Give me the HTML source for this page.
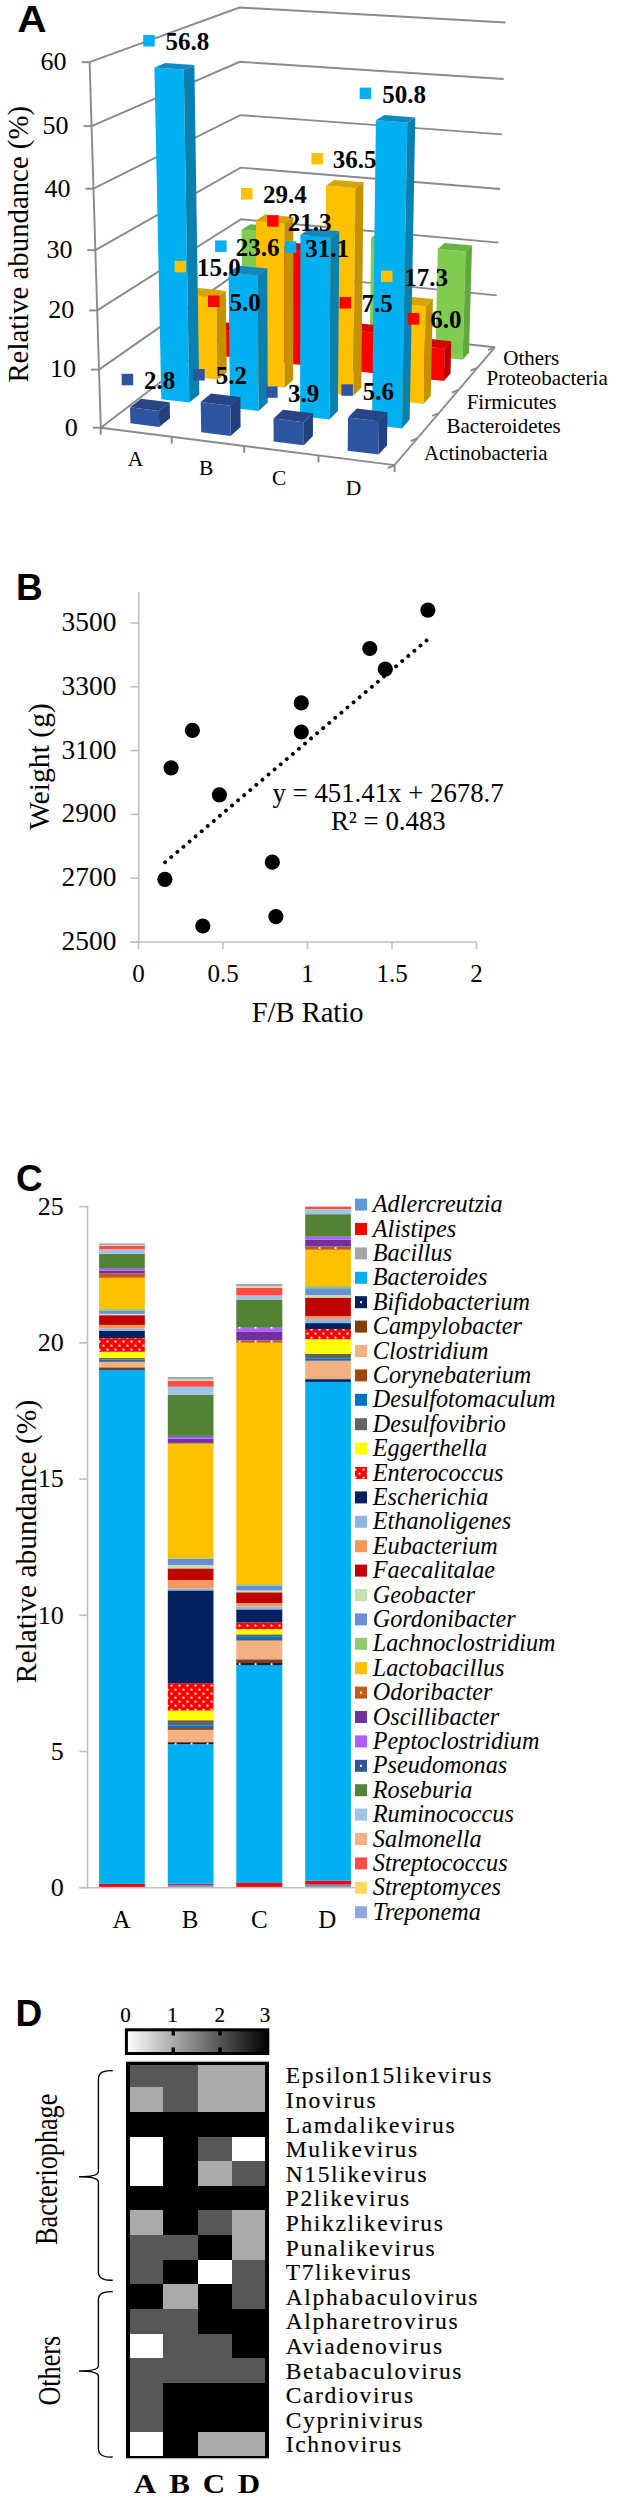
<!DOCTYPE html>
<html><head><meta charset="utf-8"><style>html,body{margin:0;padding:0;background:#fff;}svg{display:block;}</style></head>
<body><svg width="617" height="2500" viewBox="0 0 617 2500"><defs>
<pattern id="dotR" width="8" height="8" patternUnits="userSpaceOnUse"><rect width="8" height="8" fill="#FF0000"/><circle cx="3.5" cy="5.7" r="1.1" fill="#fff"/><circle cx="7.5" cy="1.7" r="1.1" fill="#fff"/><circle cx="-0.5" cy="1.7" r="1.1" fill="#fff"/><circle cx="7.5" cy="9.7" r="1.1" fill="#fff"/><circle cx="-0.5" cy="9.7" r="1.1" fill="#fff"/></pattern>
<linearGradient id="gradBW" x1="0" x2="1" y1="0" y2="0"><stop offset="0" stop-color="#fff"/><stop offset="1" stop-color="#000"/></linearGradient>
</defs>
<rect width="617" height="2500" fill="#fff"/>
<text transform="translate(17.2,31.6) scale(1.1,1)" font-family="Liberation Sans" font-weight="bold" font-size="37">A</text>
<polyline points="100.8,427.7 241.8,320.1 495.0,347.2" fill="none" stroke="#8A8A8A" stroke-width="1.9"/>
<line x1="92.8" y1="427.7" x2="100.8" y2="427.7" stroke="#8A8A8A" stroke-width="1.9"/>
<polyline points="99.0,369.6 241.4,270.1 496.7,295.4" fill="none" stroke="#8A8A8A" stroke-width="1.9"/>
<line x1="91.0" y1="369.6" x2="99.0" y2="369.6" stroke="#8A8A8A" stroke-width="1.9"/>
<polyline points="97.2,310.4 241.0,219.3 498.4,242.6" fill="none" stroke="#8A8A8A" stroke-width="1.9"/>
<line x1="89.2" y1="310.4" x2="97.2" y2="310.4" stroke="#8A8A8A" stroke-width="1.9"/>
<polyline points="95.4,250.2 240.6,167.6 500.1,189.0" fill="none" stroke="#8A8A8A" stroke-width="1.9"/>
<line x1="87.4" y1="250.2" x2="95.4" y2="250.2" stroke="#8A8A8A" stroke-width="1.9"/>
<polyline points="93.5,188.7 240.2,115.1 501.9,134.4" fill="none" stroke="#8A8A8A" stroke-width="1.9"/>
<line x1="85.5" y1="188.7" x2="93.5" y2="188.7" stroke="#8A8A8A" stroke-width="1.9"/>
<polyline points="91.6,126.1 239.8,61.8 503.7,79.0" fill="none" stroke="#8A8A8A" stroke-width="1.9"/>
<line x1="83.6" y1="126.1" x2="91.6" y2="126.1" stroke="#8A8A8A" stroke-width="1.9"/>
<polyline points="89.6,62.2 239.4,7.5 505.5,22.5" fill="none" stroke="#8A8A8A" stroke-width="1.9"/>
<line x1="81.6" y1="62.2" x2="89.6" y2="62.2" stroke="#8A8A8A" stroke-width="1.9"/>
<line x1="100.8" y1="427.7" x2="89.6" y2="62.2" stroke="#8A8A8A" stroke-width="1.9"/>
<polyline points="100.8,427.7 394.6,465.1 495.0,347.2" fill="none" stroke="#8A8A8A" stroke-width="1.9"/>
<line x1="100.8" y1="427.7" x2="100.8" y2="434.7" stroke="#8A8A8A" stroke-width="1.9"/>
<line x1="171.7" y1="436.7" x2="171.7" y2="443.7" stroke="#8A8A8A" stroke-width="1.9"/>
<line x1="244.2" y1="445.9" x2="244.2" y2="452.9" stroke="#8A8A8A" stroke-width="1.9"/>
<line x1="318.5" y1="455.4" x2="318.5" y2="462.4" stroke="#8A8A8A" stroke-width="1.9"/>
<line x1="394.6" y1="465.1" x2="394.6" y2="472.1" stroke="#8A8A8A" stroke-width="1.9"/>
<line x1="394.6" y1="465.1" x2="387.6" y2="468.1" stroke="#8A8A8A" stroke-width="1.9"/>
<line x1="417.6" y1="438.1" x2="410.6" y2="441.1" stroke="#8A8A8A" stroke-width="1.9"/>
<line x1="439.0" y1="413.0" x2="432.0" y2="416.0" stroke="#8A8A8A" stroke-width="1.9"/>
<line x1="458.9" y1="389.6" x2="451.9" y2="392.6" stroke="#8A8A8A" stroke-width="1.9"/>
<line x1="477.6" y1="367.7" x2="470.6" y2="370.7" stroke="#8A8A8A" stroke-width="1.9"/>
<line x1="495.0" y1="347.2" x2="488.0" y2="350.2" stroke="#8A8A8A" stroke-width="1.9"/>
<polygon points="242.4,335.7 268.1,338.5 267.7,232.2 241.6,229.8" fill="#80CC50"/>
<polygon points="268.1,338.5 276.4,331.8 276.1,226.6 267.7,232.2" fill="#5FA83A"/>
<polygon points="241.6,229.8 267.7,232.2 276.1,226.6 250.3,224.2" fill="#6AB244"/>
<polygon points="305.4,342.6 331.6,345.4 332.3,240.8 305.7,238.4" fill="#80CC50"/>
<polygon points="331.6,345.4 339.3,338.6 340.1,235.0 332.3,240.8" fill="#5FA83A"/>
<polygon points="305.7,238.4 332.3,240.8 340.1,235.0 313.7,232.6" fill="#6AB244"/>
<polygon points="369.7,349.6 396.5,352.6 398.3,240.5 371.1,238.0" fill="#80CC50"/>
<polygon points="396.5,352.6 403.5,345.6 405.4,234.7 398.3,240.5" fill="#5FA83A"/>
<polygon points="371.1,238.0 398.3,240.5 405.4,234.7 378.5,232.2" fill="#6AB244"/>
<polygon points="435.4,356.8 462.7,359.8 465.6,251.6 437.8,249.0" fill="#80CC50"/>
<polygon points="462.7,359.8 469.0,352.7 472.0,245.5 465.6,251.6" fill="#5FA83A"/>
<polygon points="437.8,249.0 465.6,251.6 472.0,245.5 444.5,243.0" fill="#6AB244"/>
<polygon points="217.1,355.5 243.5,358.5 243.3,332.1 216.8,329.2" fill="#FF0000"/>
<polygon points="243.5,358.5 252.3,351.3 252.1,325.3 243.3,332.1" fill="#C00000"/>
<polygon points="216.8,329.2 243.3,332.1 252.1,325.3 225.9,322.4" fill="#D80000"/>
<polygon points="281.9,362.8 308.9,365.9 309.2,251.0 281.7,248.4" fill="#FF0000"/>
<polygon points="308.9,365.9 317.0,358.6 317.4,244.9 309.2,251.0" fill="#C00000"/>
<polygon points="281.7,248.4 309.2,251.0 317.4,244.9 290.3,242.4" fill="#D80000"/>
<polygon points="348.1,370.3 375.6,373.4 376.1,333.1 348.4,330.1" fill="#FF0000"/>
<polygon points="375.6,373.4 383.1,366.0 383.6,326.0 376.1,333.1" fill="#C00000"/>
<polygon points="348.4,330.1 376.1,333.1 383.6,326.0 356.2,323.1" fill="#D80000"/>
<polygon points="415.6,378.0 443.8,381.1 444.6,348.6 416.3,345.5" fill="#FF0000"/>
<polygon points="443.8,381.1 450.5,373.5 451.3,341.3 444.6,348.6" fill="#C00000"/>
<polygon points="416.3,345.5 444.6,348.6 451.3,341.3 423.4,338.3" fill="#D80000"/>
<polygon points="190.2,376.6 217.3,379.8 216.3,297.7 188.8,294.8" fill="#FFC000"/>
<polygon points="217.3,379.8 226.7,372.2 225.8,290.9 216.3,297.7" fill="#C49200"/>
<polygon points="188.8,294.8 216.3,297.7 225.8,290.9 198.6,288.1" fill="#D9A300"/>
<polygon points="256.8,384.4 284.5,387.7 284.3,223.1 255.9,220.5" fill="#FFC000"/>
<polygon points="284.5,387.7 293.2,379.9 293.3,217.1 284.3,223.1" fill="#C49200"/>
<polygon points="255.9,220.5 284.3,223.1 293.3,217.1 265.1,214.5" fill="#D9A300"/>
<polygon points="324.9,392.4 353.3,395.7 355.3,188.0 326.0,185.6" fill="#FFC000"/>
<polygon points="353.3,395.7 361.3,387.7 363.5,182.3 355.3,188.0" fill="#C49200"/>
<polygon points="326.0,185.6 355.3,188.0 363.5,182.3 334.5,179.9" fill="#D9A300"/>
<polygon points="394.6,400.6 423.6,404.0 425.6,306.2 396.1,303.2" fill="#FFC000"/>
<polygon points="423.6,404.0 430.8,395.8 432.9,299.1 425.6,306.2" fill="#C49200"/>
<polygon points="396.1,303.2 425.6,306.2 432.9,299.1 403.8,296.2" fill="#D9A300"/>
<polygon points="161.3,399.2 189.3,402.6 183.8,69.5 154.4,67.5" fill="#00B0F0"/>
<polygon points="189.3,402.6 199.3,394.4 194.4,65.1 183.8,69.5" fill="#0A80B0"/>
<polygon points="154.4,67.5 183.8,69.5 194.4,65.1 165.3,63.1" fill="#0F89C0"/>
<polygon points="230.0,407.5 258.5,411.0 257.8,275.4 228.6,272.5" fill="#00B0F0"/>
<polygon points="258.5,411.0 267.8,402.6 267.3,268.5 257.8,275.4" fill="#0A80B0"/>
<polygon points="228.6,272.5 257.8,275.4 267.3,268.5 238.4,265.7" fill="#0F89C0"/>
<polygon points="300.1,416.0 329.4,419.6 330.5,237.8 300.4,235.0" fill="#00B0F0"/>
<polygon points="329.4,419.6 337.9,411.0 339.3,231.3 330.5,237.8" fill="#0A80B0"/>
<polygon points="300.4,235.0 330.5,237.8 339.3,231.3 309.5,228.6" fill="#0F89C0"/>
<polygon points="372.0,424.8 401.9,428.4 407.3,122.6 375.9,120.3" fill="#00B0F0"/>
<polygon points="401.9,428.4 409.7,419.6 415.3,117.4 407.3,122.6" fill="#0A80B0"/>
<polygon points="375.9,120.3 407.3,122.6 415.3,117.4 384.3,115.1" fill="#0F89C0"/>
<polygon points="130.4,423.3 159.2,427.0 158.9,410.9 130.0,407.3" fill="#2E55A0"/>
<polygon points="159.2,427.0 170.0,418.2 169.7,402.3 158.9,410.9" fill="#22417F"/>
<polygon points="130.0,407.3 158.9,410.9 169.7,402.3 141.1,398.8" fill="#2A4585"/>
<polygon points="201.2,432.3 230.7,436.0 230.4,405.7 200.7,402.1" fill="#2E55A0"/>
<polygon points="230.7,436.0 240.6,427.0 240.4,397.0 230.4,405.7" fill="#22417F"/>
<polygon points="200.7,402.1 230.4,405.7 240.4,397.0 211.1,393.5" fill="#2A4585"/>
<polygon points="273.6,441.4 303.8,445.2 303.8,422.2 273.5,418.5" fill="#2E55A0"/>
<polygon points="303.8,445.2 312.9,436.0 313.0,413.3 303.8,422.2" fill="#22417F"/>
<polygon points="273.5,418.5 303.8,422.2 313.0,413.3 283.1,409.7" fill="#2A4585"/>
<polygon points="347.7,450.7 378.6,454.6 379.1,421.3 348.0,417.5" fill="#2E55A0"/>
<polygon points="378.6,454.6 387.0,445.2 387.5,412.3 379.1,421.3" fill="#22417F"/>
<polygon points="348.0,417.5 379.1,421.3 387.5,412.3 356.8,408.6" fill="#2A4585"/>
<rect x="143.2" y="35.0" width="11.5" height="11.5" fill="#00B0F0"/>
<text x="165.6" y="50.3" font-family="Liberation Serif" font-weight="bold" font-size="25">56.8</text>
<rect x="359.7" y="87.6" width="11.5" height="11.5" fill="#00B0F0"/>
<text x="382.2" y="102.9" font-family="Liberation Serif" font-weight="bold" font-size="25">50.8</text>
<rect x="311.4" y="153.0" width="11.5" height="11.5" fill="#FFC000"/>
<text x="332.8" y="168.3" font-family="Liberation Serif" font-weight="bold" font-size="25">36.5</text>
<rect x="241.0" y="188.0" width="11.5" height="11.5" fill="#FFC000"/>
<text x="263.1" y="203.3" font-family="Liberation Serif" font-weight="bold" font-size="25">29.4</text>
<rect x="267.0" y="215.2" width="11.5" height="11.5" fill="#FF0000"/>
<text x="287.7" y="230.5" font-family="Liberation Serif" font-weight="bold" font-size="25">21.3</text>
<rect x="215.1" y="240.4" width="11.5" height="11.5" fill="#00B0F0"/>
<text x="235.8" y="255.7" font-family="Liberation Serif" font-weight="bold" font-size="25">23.6</text>
<rect x="284.8" y="241.3" width="11.5" height="11.5" fill="#00B0F0"/>
<text x="305.2" y="256.6" font-family="Liberation Serif" font-weight="bold" font-size="25">31.1</text>
<rect x="174.6" y="260.8" width="11.5" height="11.5" fill="#FFC000"/>
<text x="196.9" y="276.1" font-family="Liberation Serif" font-weight="bold" font-size="25">15.0</text>
<rect x="208.0" y="295.5" width="11.5" height="11.5" fill="#FF0000"/>
<text x="229.4" y="310.8" font-family="Liberation Serif" font-weight="bold" font-size="25">5.0</text>
<rect x="381.0" y="270.6" width="11.5" height="11.5" fill="#FFC000"/>
<text x="404.3" y="285.9" font-family="Liberation Serif" font-weight="bold" font-size="25">17.3</text>
<rect x="339.5" y="297.0" width="11.5" height="11.5" fill="#FF0000"/>
<text x="361.5" y="312.3" font-family="Liberation Serif" font-weight="bold" font-size="25">7.5</text>
<rect x="407.7" y="313.1" width="11.5" height="11.5" fill="#FF0000"/>
<text x="430.2" y="328.4" font-family="Liberation Serif" font-weight="bold" font-size="25">6.0</text>
<rect x="121.7" y="373.8" width="11.5" height="11.5" fill="#2E55A0"/>
<text x="144.0" y="389.1" font-family="Liberation Serif" font-weight="bold" font-size="25">2.8</text>
<rect x="193.2" y="369.0" width="11.5" height="11.5" fill="#2E55A0"/>
<text x="215.7" y="384.3" font-family="Liberation Serif" font-weight="bold" font-size="25">5.2</text>
<rect x="266.1" y="386.3" width="11.5" height="11.5" fill="#2E55A0"/>
<text x="287.9" y="401.6" font-family="Liberation Serif" font-weight="bold" font-size="25">3.9</text>
<rect x="341.4" y="384.3" width="11.5" height="11.5" fill="#2E55A0"/>
<text x="362.7" y="399.6" font-family="Liberation Serif" font-weight="bold" font-size="25">5.6</text>
<text x="77.8" y="435.5" font-family="Liberation Serif" font-size="26" text-anchor="end">0</text>
<text x="76.0" y="377.4" font-family="Liberation Serif" font-size="26" text-anchor="end">10</text>
<text x="74.2" y="318.2" font-family="Liberation Serif" font-size="26" text-anchor="end">20</text>
<text x="72.4" y="258.0" font-family="Liberation Serif" font-size="26" text-anchor="end">30</text>
<text x="70.5" y="196.5" font-family="Liberation Serif" font-size="26" text-anchor="end">40</text>
<text x="68.6" y="133.9" font-family="Liberation Serif" font-size="26" text-anchor="end">50</text>
<text x="66.6" y="70.0" font-family="Liberation Serif" font-size="26" text-anchor="end">60</text>
<text transform="translate(27.5,382.6) rotate(-90)" font-family="Liberation Serif" font-size="28.8">Relative abundance (%)</text>
<text x="127.8" y="465.90000000000003" font-family="Liberation Serif" font-size="21.5">A</text>
<text x="198.9" y="475.3" font-family="Liberation Serif" font-size="21.5">B</text>
<text x="272.0" y="485.1" font-family="Liberation Serif" font-size="21.5">C</text>
<text x="345.7" y="494.5" font-family="Liberation Serif" font-size="21.5">D</text>
<text x="503.3" y="365" font-family="Liberation Serif" font-size="21">Others</text>
<text x="486.5" y="385" font-family="Liberation Serif" font-size="21">Proteobacteria</text>
<text x="466.7" y="409" font-family="Liberation Serif" font-size="21">Firmicutes</text>
<text x="446.5" y="433" font-family="Liberation Serif" font-size="21">Bacteroidetes</text>
<text x="423.9" y="459.5" font-family="Liberation Serif" font-size="21">Actinobacteria</text>
<text x="16" y="599.8" font-family="Liberation Sans" font-weight="bold" font-size="37">B</text>
<line x1="138.7" y1="592" x2="138.7" y2="942" stroke="#BFBFBF" stroke-width="1.6"/>
<line x1="130.7" y1="942" x2="476.5" y2="942" stroke="#BFBFBF" stroke-width="1.6"/>
<line x1="130.7" y1="942.0" x2="138.7" y2="942.0" stroke="#BFBFBF" stroke-width="1.6"/>
<text x="116.4" y="950.0" font-family="Liberation Serif" font-size="27.4" text-anchor="end">2500</text>
<line x1="130.7" y1="878.2" x2="138.7" y2="878.2" stroke="#BFBFBF" stroke-width="1.6"/>
<text x="116.4" y="886.2" font-family="Liberation Serif" font-size="27.4" text-anchor="end">2700</text>
<line x1="130.7" y1="814.4" x2="138.7" y2="814.4" stroke="#BFBFBF" stroke-width="1.6"/>
<text x="116.4" y="822.4" font-family="Liberation Serif" font-size="27.4" text-anchor="end">2900</text>
<line x1="130.7" y1="750.6" x2="138.7" y2="750.6" stroke="#BFBFBF" stroke-width="1.6"/>
<text x="116.4" y="758.6" font-family="Liberation Serif" font-size="27.4" text-anchor="end">3100</text>
<line x1="130.7" y1="686.8" x2="138.7" y2="686.8" stroke="#BFBFBF" stroke-width="1.6"/>
<text x="116.4" y="694.8" font-family="Liberation Serif" font-size="27.4" text-anchor="end">3300</text>
<line x1="130.7" y1="623.0" x2="138.7" y2="623.0" stroke="#BFBFBF" stroke-width="1.6"/>
<text x="116.4" y="631.0" font-family="Liberation Serif" font-size="27.4" text-anchor="end">3500</text>
<line x1="138.5" y1="942" x2="138.5" y2="949" stroke="#BFBFBF" stroke-width="1.6"/>
<text x="138.5" y="981.6" font-family="Liberation Serif" font-size="25" text-anchor="middle">0</text>
<line x1="223.0" y1="942" x2="223.0" y2="949" stroke="#BFBFBF" stroke-width="1.6"/>
<text x="223.0" y="981.6" font-family="Liberation Serif" font-size="25" text-anchor="middle">0.5</text>
<line x1="307.5" y1="942" x2="307.5" y2="949" stroke="#BFBFBF" stroke-width="1.6"/>
<text x="307.5" y="981.6" font-family="Liberation Serif" font-size="25" text-anchor="middle">1</text>
<line x1="392.0" y1="942" x2="392.0" y2="949" stroke="#BFBFBF" stroke-width="1.6"/>
<text x="392.0" y="981.6" font-family="Liberation Serif" font-size="25" text-anchor="middle">1.5</text>
<line x1="476.5" y1="942" x2="476.5" y2="949" stroke="#BFBFBF" stroke-width="1.6"/>
<text x="476.5" y="981.6" font-family="Liberation Serif" font-size="25" text-anchor="middle">2</text>
<text x="307.6" y="1022.2" font-family="Liberation Serif" font-size="28.5" text-anchor="middle">F/B Ratio</text>
<text transform="translate(48.5,766.6) rotate(-90)" font-family="Liberation Serif" font-size="29.7" text-anchor="middle">Weight (g)</text>
<line x1="165.2" y1="862.2" x2="426.9" y2="640.1" stroke="#000" stroke-width="3.9" stroke-dasharray="0.01 7.96" stroke-linecap="round"/>
<circle cx="427.9" cy="610.1" r="7.6" fill="#000"/>
<circle cx="369.8" cy="648.5" r="7.6" fill="#000"/>
<circle cx="385.3" cy="669.2" r="7.6" fill="#000"/>
<circle cx="301.3" cy="702.9" r="7.6" fill="#000"/>
<circle cx="301.3" cy="732" r="7.6" fill="#000"/>
<circle cx="192.4" cy="730.4" r="7.6" fill="#000"/>
<circle cx="171.1" cy="767.8" r="7.6" fill="#000"/>
<circle cx="219.4" cy="794.8" r="7.6" fill="#000"/>
<circle cx="164.9" cy="879.3" r="7.6" fill="#000"/>
<circle cx="272.3" cy="862.2" r="7.6" fill="#000"/>
<circle cx="202.8" cy="926" r="7.6" fill="#000"/>
<circle cx="275.9" cy="916.6" r="7.6" fill="#000"/>
<text x="272.5" y="801.5" font-family="Liberation Serif" font-size="26.8">y = 451.41x + 2678.7</text>
<text x="331" y="830" font-family="Liberation Serif" font-size="26.8">R² = 0.483</text>
<text x="16" y="1190.7" font-family="Liberation Sans" font-weight="bold" font-size="37">C</text>
<line x1="87.5" y1="1206" x2="87.5" y2="1888" stroke="#BFBFBF" stroke-width="1.6"/>
<line x1="79.3" y1="1887.8" x2="358" y2="1887.8" stroke="#BFBFBF" stroke-width="1.6"/>
<line x1="79.3" y1="1887.7" x2="87.5" y2="1887.7" stroke="#BFBFBF" stroke-width="1.6"/>
<text x="63.8" y="1895.9" font-family="Liberation Serif" font-size="26" text-anchor="end">0</text>
<line x1="79.3" y1="1751.5" x2="87.5" y2="1751.5" stroke="#BFBFBF" stroke-width="1.6"/>
<text x="63.8" y="1759.7" font-family="Liberation Serif" font-size="26" text-anchor="end">5</text>
<line x1="79.3" y1="1615.3" x2="87.5" y2="1615.3" stroke="#BFBFBF" stroke-width="1.6"/>
<text x="63.8" y="1623.5" font-family="Liberation Serif" font-size="26" text-anchor="end">10</text>
<line x1="79.3" y1="1479.1" x2="87.5" y2="1479.1" stroke="#BFBFBF" stroke-width="1.6"/>
<text x="63.8" y="1487.3" font-family="Liberation Serif" font-size="26" text-anchor="end">15</text>
<line x1="79.3" y1="1342.9" x2="87.5" y2="1342.9" stroke="#BFBFBF" stroke-width="1.6"/>
<text x="63.8" y="1351.1" font-family="Liberation Serif" font-size="26" text-anchor="end">20</text>
<line x1="79.3" y1="1206.7" x2="87.5" y2="1206.7" stroke="#BFBFBF" stroke-width="1.6"/>
<text x="63.8" y="1214.9" font-family="Liberation Serif" font-size="26" text-anchor="end">25</text>
<text transform="translate(35.7,1541.5) rotate(-90)" font-family="Liberation Serif" font-size="29.5" text-anchor="middle">Relative abundance (%)</text>
<text x="121.5" y="1927.8" font-family="Liberation Serif" font-size="25" text-anchor="middle">A</text>
<text x="190" y="1927.8" font-family="Liberation Serif" font-size="25" text-anchor="middle">B</text>
<text x="259.3" y="1927.8" font-family="Liberation Serif" font-size="25" text-anchor="middle">C</text>
<text x="327.4" y="1927.8" font-family="Liberation Serif" font-size="25" text-anchor="middle">D</text>
<rect x="355" y="1198.6" width="12" height="12" fill="#5B9BD5"/>
<text x="372.8" y="1212.1" font-family="Liberation Serif" font-style="italic" font-size="24.2">Adlercreutzia</text>
<rect x="355" y="1223.0" width="12" height="12" fill="#FF0000"/>
<text x="372.8" y="1236.5" font-family="Liberation Serif" font-style="italic" font-size="24.2">Alistipes</text>
<rect x="355" y="1247.4" width="12" height="12" fill="#A5A5A5"/>
<text x="372.8" y="1260.9" font-family="Liberation Serif" font-style="italic" font-size="24.2">Bacillus</text>
<rect x="355" y="1271.8" width="12" height="12" fill="#00B0F0"/>
<text x="372.8" y="1285.3" font-family="Liberation Serif" font-style="italic" font-size="24.2">Bacteroides</text>
<rect x="355" y="1296.2" width="12" height="12" fill="#002060"/>
<rect x="360" y="1301.2" width="2" height="2" fill="#fff"/>
<text x="372.8" y="1309.7" font-family="Liberation Serif" font-style="italic" font-size="24.2">Bifidobacterium</text>
<rect x="355" y="1320.6" width="12" height="12" fill="#843C0C"/>
<text x="372.8" y="1334.1" font-family="Liberation Serif" font-style="italic" font-size="24.2">Campylobacter</text>
<rect x="355" y="1345.0" width="12" height="12" fill="#F4B183"/>
<text x="372.8" y="1358.5" font-family="Liberation Serif" font-style="italic" font-size="24.2">Clostridium</text>
<rect x="355" y="1369.4" width="12" height="12" fill="#9E480E"/>
<text x="372.8" y="1382.9" font-family="Liberation Serif" font-style="italic" font-size="24.2">Corynebaterium</text>
<rect x="355" y="1393.8" width="12" height="12" fill="#0070C0"/>
<text x="372.8" y="1407.3" font-family="Liberation Serif" font-style="italic" font-size="24.2">Desulfotomaculum</text>
<rect x="355" y="1418.2" width="12" height="12" fill="#636363"/>
<text x="372.8" y="1431.7" font-family="Liberation Serif" font-style="italic" font-size="24.2">Desulfovibrio</text>
<rect x="355" y="1442.6" width="12" height="12" fill="#FFFF00"/>
<text x="372.8" y="1456.1" font-family="Liberation Serif" font-style="italic" font-size="24.2">Eggerthella</text>
<rect x="355" y="1467.0" width="12" height="12" fill="url(#dotR)"/>
<text x="372.8" y="1480.5" font-family="Liberation Serif" font-style="italic" font-size="24.2">Enterococcus</text>
<rect x="355" y="1491.4" width="12" height="12" fill="#002060"/>
<text x="372.8" y="1504.9" font-family="Liberation Serif" font-style="italic" font-size="24.2">Escherichia</text>
<rect x="355" y="1515.8" width="12" height="12" fill="#8EB4E3"/>
<text x="372.8" y="1529.3" font-family="Liberation Serif" font-style="italic" font-size="24.2">Ethanoligenes</text>
<rect x="355" y="1540.2" width="12" height="12" fill="#F4975A"/>
<text x="372.8" y="1553.7" font-family="Liberation Serif" font-style="italic" font-size="24.2">Eubacterium</text>
<rect x="355" y="1564.6" width="12" height="12" fill="#C00000"/>
<text x="372.8" y="1578.1" font-family="Liberation Serif" font-style="italic" font-size="24.2">Faecalitalae</text>
<rect x="355" y="1589.0" width="12" height="12" fill="#C5E0B4"/>
<text x="372.8" y="1602.5" font-family="Liberation Serif" font-style="italic" font-size="24.2">Geobacter</text>
<rect x="355" y="1613.4" width="12" height="12" fill="#6A8ED4"/>
<text x="372.8" y="1626.9" font-family="Liberation Serif" font-style="italic" font-size="24.2">Gordonibacter</text>
<rect x="355" y="1637.8" width="12" height="12" fill="#8FCB6E"/>
<text x="372.8" y="1651.3" font-family="Liberation Serif" font-style="italic" font-size="24.2">Lachnoclostridium</text>
<rect x="355" y="1662.2" width="12" height="12" fill="#FFC000"/>
<text x="372.8" y="1675.7" font-family="Liberation Serif" font-style="italic" font-size="24.2">Lactobacillus</text>
<rect x="355" y="1686.6" width="12" height="12" fill="#C55A11"/>
<rect x="360" y="1691.6" width="2" height="2" fill="#fff"/>
<text x="372.8" y="1700.1" font-family="Liberation Serif" font-style="italic" font-size="24.2">Odoribacter</text>
<rect x="355" y="1711.0" width="12" height="12" fill="#7030A0"/>
<text x="372.8" y="1724.5" font-family="Liberation Serif" font-style="italic" font-size="24.2">Oscillibacter</text>
<rect x="355" y="1735.4" width="12" height="12" fill="#B05CFF"/>
<text x="372.8" y="1748.9" font-family="Liberation Serif" font-style="italic" font-size="24.2">Peptoclostridium</text>
<rect x="355" y="1759.8" width="12" height="12" fill="#2F5597"/>
<rect x="360" y="1764.8" width="2" height="2" fill="#fff"/>
<text x="372.8" y="1773.3" font-family="Liberation Serif" font-style="italic" font-size="24.2">Pseudomonas</text>
<rect x="355" y="1784.2" width="12" height="12" fill="#548235"/>
<text x="372.8" y="1797.7" font-family="Liberation Serif" font-style="italic" font-size="24.2">Roseburia</text>
<rect x="355" y="1808.6" width="12" height="12" fill="#9DC3E6"/>
<text x="372.8" y="1822.1" font-family="Liberation Serif" font-style="italic" font-size="24.2">Ruminococcus</text>
<rect x="355" y="1833.0" width="12" height="12" fill="#F4B183"/>
<text x="372.8" y="1846.5" font-family="Liberation Serif" font-style="italic" font-size="24.2">Salmonella</text>
<rect x="355" y="1857.4" width="12" height="12" fill="#FF4B4B"/>
<text x="372.8" y="1870.9" font-family="Liberation Serif" font-style="italic" font-size="24.2">Streptococcus</text>
<rect x="355" y="1881.8" width="12" height="12" fill="#FFD966"/>
<text x="372.8" y="1895.3" font-family="Liberation Serif" font-style="italic" font-size="24.2">Streptomyces</text>
<rect x="355" y="1906.2" width="12" height="12" fill="#8EA9DB"/>
<text x="372.8" y="1919.7" font-family="Liberation Serif" font-style="italic" font-size="24.2">Treponema</text>
<rect x="99.1" y="1883.90" width="45.7" height="3.00" fill="#FF0000"/>
<rect x="99.1" y="1370.20" width="45.7" height="513.70" fill="#00B0F0"/>
<rect x="99.1" y="1369.20" width="45.7" height="1.00" fill="#002060"/>
<rect x="99.1" y="1367.30" width="45.7" height="1.90" fill="#843C0C"/>
<rect x="99.1" y="1362.10" width="45.7" height="5.20" fill="#F4B183"/>
<rect x="99.1" y="1361.20" width="45.7" height="0.90" fill="#9E480E"/>
<rect x="99.1" y="1359.50" width="45.7" height="1.70" fill="#0070C0"/>
<rect x="99.1" y="1358.00" width="45.7" height="1.50" fill="#636363"/>
<rect x="99.1" y="1351.70" width="45.7" height="6.30" fill="#FFFF00"/>
<rect x="99.1" y="1338.10" width="45.7" height="13.60" fill="url(#dotR)"/>
<rect x="99.1" y="1330.80" width="45.7" height="7.30" fill="#002060"/>
<rect x="99.1" y="1328.30" width="45.7" height="2.50" fill="#8EB4E3"/>
<rect x="99.1" y="1324.90" width="45.7" height="3.40" fill="#F4975A"/>
<rect x="99.1" y="1315.20" width="45.7" height="9.70" fill="#C00000"/>
<rect x="99.1" y="1313.80" width="45.7" height="1.40" fill="#C5E0B4"/>
<rect x="99.1" y="1310.40" width="45.7" height="3.40" fill="#6A8ED4"/>
<rect x="99.1" y="1308.90" width="45.7" height="1.50" fill="#8FCB6E"/>
<rect x="99.1" y="1277.80" width="45.7" height="31.10" fill="#FFC000"/>
<rect x="99.1" y="1273.40" width="45.7" height="4.40" fill="#C55A11"/>
<rect x="99.1" y="1270.70" width="45.7" height="2.70" fill="#7030A0"/>
<rect x="99.1" y="1268.70" width="45.7" height="2.00" fill="#B05CFF"/>
<rect x="99.1" y="1268.10" width="45.7" height="0.60" fill="#2F5597"/>
<rect x="99.1" y="1253.80" width="45.7" height="14.30" fill="#548235"/>
<rect x="99.1" y="1249.90" width="45.7" height="3.90" fill="#9DC3E6"/>
<rect x="99.1" y="1249.30" width="45.7" height="0.60" fill="#F4B183"/>
<rect x="99.1" y="1245.60" width="45.7" height="3.70" fill="#FF4B4B"/>
<rect x="99.1" y="1245.00" width="45.7" height="0.60" fill="#FFD966"/>
<rect x="99.1" y="1243.40" width="45.7" height="1.60" fill="#8EA9DB"/>
<rect x="167.8" y="1884.90" width="45.7" height="2.00" fill="#5B9BD5"/>
<rect x="167.8" y="1883.60" width="45.7" height="1.30" fill="#FF0000"/>
<rect x="167.8" y="1744.20" width="45.7" height="139.40" fill="#00B0F0"/>
<rect x="167.8" y="1742.90" width="45.7" height="1.30" fill="#002060"/>
<rect x="167.8" y="1741.60" width="45.7" height="1.30" fill="#843C0C"/>
<rect x="167.8" y="1729.90" width="45.7" height="11.70" fill="#F4B183"/>
<rect x="167.8" y="1728.00" width="45.7" height="1.90" fill="#9E480E"/>
<rect x="167.8" y="1725.40" width="45.7" height="2.60" fill="#0070C0"/>
<rect x="167.8" y="1720.20" width="45.7" height="5.20" fill="#636363"/>
<rect x="167.8" y="1710.50" width="45.7" height="9.70" fill="#FFFF00"/>
<rect x="167.8" y="1683.20" width="45.7" height="27.30" fill="url(#dotR)"/>
<rect x="167.8" y="1590.40" width="45.7" height="92.80" fill="#002060"/>
<rect x="167.8" y="1588.50" width="45.7" height="1.90" fill="#8EB4E3"/>
<rect x="167.8" y="1580.00" width="45.7" height="8.50" fill="#F4975A"/>
<rect x="167.8" y="1568.40" width="45.7" height="11.60" fill="#C00000"/>
<rect x="167.8" y="1565.10" width="45.7" height="3.30" fill="#C5E0B4"/>
<rect x="167.8" y="1558.60" width="45.7" height="6.50" fill="#6A8ED4"/>
<rect x="167.8" y="1558.00" width="45.7" height="0.60" fill="#8FCB6E"/>
<rect x="167.8" y="1443.60" width="45.7" height="114.40" fill="#FFC000"/>
<rect x="167.8" y="1442.90" width="45.7" height="0.70" fill="#C55A11"/>
<rect x="167.8" y="1438.80" width="45.7" height="4.10" fill="#7030A0"/>
<rect x="167.8" y="1436.80" width="45.7" height="2.00" fill="#B05CFF"/>
<rect x="167.8" y="1435.90" width="45.7" height="0.90" fill="#2F5597"/>
<rect x="167.8" y="1394.80" width="45.7" height="41.10" fill="#548235"/>
<rect x="167.8" y="1387.00" width="45.7" height="7.80" fill="#9DC3E6"/>
<rect x="167.8" y="1386.70" width="45.7" height="0.30" fill="#F4B183"/>
<rect x="167.8" y="1380.90" width="45.7" height="5.80" fill="#FF4B4B"/>
<rect x="167.8" y="1379.30" width="45.7" height="1.60" fill="#FFD966"/>
<rect x="167.8" y="1377.00" width="45.7" height="2.30" fill="#8EA9DB"/>
<rect x="174.7" y="1742.7" width="1.8" height="1.8" fill="#fff"/>
<rect x="190.7" y="1742.7" width="1.8" height="1.8" fill="#fff"/>
<rect x="206.7" y="1742.7" width="1.8" height="1.8" fill="#fff"/>
<rect x="236.3" y="1883.00" width="46.0" height="3.90" fill="#FF0000"/>
<rect x="236.3" y="1665.30" width="46.0" height="217.70" fill="#00B0F0"/>
<rect x="236.3" y="1663.00" width="46.0" height="2.30" fill="#002060"/>
<rect x="236.3" y="1659.30" width="46.0" height="3.70" fill="#843C0C"/>
<rect x="236.3" y="1640.60" width="46.0" height="18.70" fill="#F4B183"/>
<rect x="236.3" y="1640.00" width="46.0" height="0.60" fill="#9E480E"/>
<rect x="236.3" y="1636.90" width="46.0" height="3.10" fill="#0070C0"/>
<rect x="236.3" y="1634.30" width="46.0" height="2.60" fill="#636363"/>
<rect x="236.3" y="1629.20" width="46.0" height="5.10" fill="#FFFF00"/>
<rect x="236.3" y="1622.40" width="46.0" height="6.80" fill="url(#dotR)"/>
<rect x="236.3" y="1609.40" width="46.0" height="13.00" fill="#002060"/>
<rect x="236.3" y="1606.50" width="46.0" height="2.90" fill="#8EB4E3"/>
<rect x="236.3" y="1603.10" width="46.0" height="3.40" fill="#F4975A"/>
<rect x="236.3" y="1592.30" width="46.0" height="10.80" fill="#C00000"/>
<rect x="236.3" y="1590.40" width="46.0" height="1.90" fill="#C5E0B4"/>
<rect x="236.3" y="1585.50" width="46.0" height="4.90" fill="#6A8ED4"/>
<rect x="236.3" y="1584.10" width="46.0" height="1.40" fill="#8FCB6E"/>
<rect x="236.3" y="1342.70" width="46.0" height="241.40" fill="#FFC000"/>
<rect x="236.3" y="1340.40" width="46.0" height="2.30" fill="#C55A11"/>
<rect x="236.3" y="1331.90" width="46.0" height="8.50" fill="#7030A0"/>
<rect x="236.3" y="1328.20" width="46.0" height="3.70" fill="#B05CFF"/>
<rect x="236.3" y="1327.40" width="46.0" height="0.80" fill="#2F5597"/>
<rect x="236.3" y="1299.90" width="46.0" height="27.50" fill="#548235"/>
<rect x="236.3" y="1296.00" width="46.0" height="3.90" fill="#9DC3E6"/>
<rect x="236.3" y="1295.40" width="46.0" height="0.60" fill="#F4B183"/>
<rect x="236.3" y="1287.70" width="46.0" height="7.70" fill="#FF4B4B"/>
<rect x="236.3" y="1286.10" width="46.0" height="1.60" fill="#FFD966"/>
<rect x="236.3" y="1284.00" width="46.0" height="2.10" fill="#8EA9DB"/>
<rect x="238.7" y="1663.2" width="1.8" height="1.8" fill="#fff"/>
<rect x="254.7" y="1663.2" width="1.8" height="1.8" fill="#fff"/>
<rect x="270.7" y="1663.2" width="1.8" height="1.8" fill="#fff"/>
<rect x="238.7" y="1326.9" width="1.8" height="1.8" fill="#fff"/>
<rect x="254.7" y="1326.9" width="1.8" height="1.8" fill="#fff"/>
<rect x="270.7" y="1326.9" width="1.8" height="1.8" fill="#fff"/>
<rect x="238.7" y="1340.7" width="1.8" height="1.8" fill="#fff"/>
<rect x="254.7" y="1340.7" width="1.8" height="1.8" fill="#fff"/>
<rect x="270.7" y="1340.7" width="1.8" height="1.8" fill="#fff"/>
<rect x="305.2" y="1884.60" width="45.7" height="2.30" fill="#5B9BD5"/>
<rect x="305.2" y="1880.70" width="45.7" height="3.90" fill="#FF0000"/>
<rect x="305.2" y="1381.90" width="45.7" height="498.80" fill="#00B0F0"/>
<rect x="305.2" y="1379.30" width="45.7" height="2.60" fill="#002060"/>
<rect x="305.2" y="1378.50" width="45.7" height="0.80" fill="#843C0C"/>
<rect x="305.2" y="1361.10" width="45.7" height="17.40" fill="#F4B183"/>
<rect x="305.2" y="1360.60" width="45.7" height="0.50" fill="#9E480E"/>
<rect x="305.2" y="1358.30" width="45.7" height="2.30" fill="#0070C0"/>
<rect x="305.2" y="1354.00" width="45.7" height="4.30" fill="#636363"/>
<rect x="305.2" y="1339.20" width="45.7" height="14.80" fill="#FFFF00"/>
<rect x="305.2" y="1329.00" width="45.7" height="10.20" fill="url(#dotR)"/>
<rect x="305.2" y="1323.10" width="45.7" height="5.90" fill="#002060"/>
<rect x="305.2" y="1319.10" width="45.7" height="4.00" fill="#8EB4E3"/>
<rect x="305.2" y="1316.10" width="45.7" height="3.00" fill="#F4975A"/>
<rect x="305.2" y="1297.60" width="45.7" height="18.50" fill="#C00000"/>
<rect x="305.2" y="1295.00" width="45.7" height="2.60" fill="#C5E0B4"/>
<rect x="305.2" y="1288.20" width="45.7" height="6.80" fill="#6A8ED4"/>
<rect x="305.2" y="1285.90" width="45.7" height="2.30" fill="#8FCB6E"/>
<rect x="305.2" y="1249.70" width="45.7" height="36.20" fill="#FFC000"/>
<rect x="305.2" y="1246.50" width="45.7" height="3.20" fill="#C55A11"/>
<rect x="305.2" y="1239.70" width="45.7" height="6.80" fill="#7030A0"/>
<rect x="305.2" y="1236.90" width="45.7" height="2.80" fill="#B05CFF"/>
<rect x="305.2" y="1236.50" width="45.7" height="0.40" fill="#2F5597"/>
<rect x="305.2" y="1214.20" width="45.7" height="22.30" fill="#548235"/>
<rect x="305.2" y="1209.60" width="45.7" height="4.60" fill="#9DC3E6"/>
<rect x="305.2" y="1209.10" width="45.7" height="0.50" fill="#F4B183"/>
<rect x="305.2" y="1207.00" width="45.7" height="2.10" fill="#FF4B4B"/>
<rect x="305.2" y="1206.70" width="45.7" height="0.30" fill="#FFD966"/>
<rect x="305.2" y="1206.20" width="45.7" height="0.50" fill="#8EA9DB"/>
<rect x="318.7" y="1247.2" width="1.8" height="1.8" fill="#fff"/>
<rect x="334.7" y="1247.2" width="1.8" height="1.8" fill="#fff"/>
<text x="15.5" y="2026.2" font-family="Liberation Sans" font-weight="bold" font-size="37">D</text>
<rect x="126.4" y="2029.8" width="141.4" height="23.7" fill="url(#gradBW)" stroke="#000" stroke-width="3"/>
<rect x="171.60000000000002" y="2029" width="3.4" height="6.5" fill="#000"/>
<rect x="171.60000000000002" y="2047.5" width="3.4" height="7" fill="#000"/>
<rect x="218.3" y="2029" width="3.4" height="6.5" fill="#000"/>
<rect x="218.3" y="2047.5" width="3.4" height="7" fill="#000"/>
<text x="125.4" y="2021.6" font-family="Liberation Serif" font-size="21" text-anchor="middle" stroke="#000" stroke-width="0.2">0</text>
<text x="172.6" y="2021.6" font-family="Liberation Serif" font-size="21" text-anchor="middle" stroke="#000" stroke-width="0.2">1</text>
<text x="219.7" y="2021.6" font-family="Liberation Serif" font-size="21" text-anchor="middle" stroke="#000" stroke-width="0.2">2</text>
<text x="265" y="2021.6" font-family="Liberation Serif" font-size="21" text-anchor="middle" stroke="#000" stroke-width="0.2">3</text>
<rect x="126" y="2061.7" width="143" height="396.6" fill="#000"/>
<rect x="129.8" y="2064.80" width="33.9" height="23.10" fill="#575757" shape-rendering="crispEdges"/>
<rect x="163.1" y="2064.80" width="35.0" height="23.10" fill="#575757" shape-rendering="crispEdges"/>
<rect x="197.5" y="2064.80" width="35.0" height="23.10" fill="#AAAAAA" shape-rendering="crispEdges"/>
<rect x="231.9" y="2064.80" width="33.3" height="23.10" fill="#AAAAAA" shape-rendering="crispEdges"/>
<text x="285.7" y="2083.3" font-family="Liberation Serif" font-size="23.5" letter-spacing="1.65" stroke="#000" stroke-width="0.15">Epsilon15likevirus</text>
<rect x="129.8" y="2087.30" width="33.9" height="25.23" fill="#AAAAAA" shape-rendering="crispEdges"/>
<rect x="163.1" y="2087.30" width="35.0" height="25.23" fill="#575757" shape-rendering="crispEdges"/>
<rect x="197.5" y="2087.30" width="35.0" height="25.23" fill="#AAAAAA" shape-rendering="crispEdges"/>
<rect x="231.9" y="2087.30" width="33.3" height="25.23" fill="#AAAAAA" shape-rendering="crispEdges"/>
<text x="285.7" y="2107.9" font-family="Liberation Serif" font-size="23.5" letter-spacing="1.65" stroke="#000" stroke-width="0.15">Inovirus</text>
<rect x="129.8" y="2111.93" width="33.9" height="25.23" fill="#000000" shape-rendering="crispEdges"/>
<rect x="163.1" y="2111.93" width="35.0" height="25.23" fill="#000000" shape-rendering="crispEdges"/>
<rect x="197.5" y="2111.93" width="35.0" height="25.23" fill="#000000" shape-rendering="crispEdges"/>
<rect x="231.9" y="2111.93" width="33.3" height="25.23" fill="#000000" shape-rendering="crispEdges"/>
<text x="285.7" y="2132.5" font-family="Liberation Serif" font-size="23.5" letter-spacing="1.65" stroke="#000" stroke-width="0.15">Lamdalikevirus</text>
<rect x="129.8" y="2136.56" width="33.9" height="25.23" fill="#FFFFFF" shape-rendering="crispEdges"/>
<rect x="163.1" y="2136.56" width="35.0" height="25.23" fill="#000000" shape-rendering="crispEdges"/>
<rect x="197.5" y="2136.56" width="35.0" height="25.23" fill="#575757" shape-rendering="crispEdges"/>
<rect x="231.9" y="2136.56" width="33.3" height="25.23" fill="#FFFFFF" shape-rendering="crispEdges"/>
<text x="285.7" y="2157.1" font-family="Liberation Serif" font-size="23.5" letter-spacing="1.65" stroke="#000" stroke-width="0.15">Mulikevirus</text>
<rect x="129.8" y="2161.19" width="33.9" height="25.23" fill="#FFFFFF" shape-rendering="crispEdges"/>
<rect x="163.1" y="2161.19" width="35.0" height="25.23" fill="#000000" shape-rendering="crispEdges"/>
<rect x="197.5" y="2161.19" width="35.0" height="25.23" fill="#AAAAAA" shape-rendering="crispEdges"/>
<rect x="231.9" y="2161.19" width="33.3" height="25.23" fill="#575757" shape-rendering="crispEdges"/>
<text x="285.7" y="2181.7" font-family="Liberation Serif" font-size="23.5" letter-spacing="1.65" stroke="#000" stroke-width="0.15">N15likevirus</text>
<rect x="129.8" y="2185.82" width="33.9" height="25.23" fill="#000000" shape-rendering="crispEdges"/>
<rect x="163.1" y="2185.82" width="35.0" height="25.23" fill="#000000" shape-rendering="crispEdges"/>
<rect x="197.5" y="2185.82" width="35.0" height="25.23" fill="#000000" shape-rendering="crispEdges"/>
<rect x="231.9" y="2185.82" width="33.3" height="25.23" fill="#000000" shape-rendering="crispEdges"/>
<text x="285.7" y="2206.3" font-family="Liberation Serif" font-size="23.5" letter-spacing="1.65" stroke="#000" stroke-width="0.15">P2likevirus</text>
<rect x="129.8" y="2210.45" width="33.9" height="25.23" fill="#AAAAAA" shape-rendering="crispEdges"/>
<rect x="163.1" y="2210.45" width="35.0" height="25.23" fill="#000000" shape-rendering="crispEdges"/>
<rect x="197.5" y="2210.45" width="35.0" height="25.23" fill="#575757" shape-rendering="crispEdges"/>
<rect x="231.9" y="2210.45" width="33.3" height="25.23" fill="#AAAAAA" shape-rendering="crispEdges"/>
<text x="285.7" y="2230.9" font-family="Liberation Serif" font-size="23.5" letter-spacing="1.65" stroke="#000" stroke-width="0.15">Phikzlikevirus</text>
<rect x="129.8" y="2235.08" width="33.9" height="25.23" fill="#575757" shape-rendering="crispEdges"/>
<rect x="163.1" y="2235.08" width="35.0" height="25.23" fill="#575757" shape-rendering="crispEdges"/>
<rect x="197.5" y="2235.08" width="35.0" height="25.23" fill="#000000" shape-rendering="crispEdges"/>
<rect x="231.9" y="2235.08" width="33.3" height="25.23" fill="#AAAAAA" shape-rendering="crispEdges"/>
<text x="285.7" y="2255.5" font-family="Liberation Serif" font-size="23.5" letter-spacing="1.65" stroke="#000" stroke-width="0.15">Punalikevirus</text>
<rect x="129.8" y="2259.71" width="33.9" height="25.23" fill="#575757" shape-rendering="crispEdges"/>
<rect x="163.1" y="2259.71" width="35.0" height="25.23" fill="#000000" shape-rendering="crispEdges"/>
<rect x="197.5" y="2259.71" width="35.0" height="25.23" fill="#FFFFFF" shape-rendering="crispEdges"/>
<rect x="231.9" y="2259.71" width="33.3" height="25.23" fill="#575757" shape-rendering="crispEdges"/>
<text x="285.7" y="2280.1" font-family="Liberation Serif" font-size="23.5" letter-spacing="1.65" stroke="#000" stroke-width="0.15">T7likevirus</text>
<rect x="129.8" y="2284.34" width="33.9" height="25.23" fill="#000000" shape-rendering="crispEdges"/>
<rect x="163.1" y="2284.34" width="35.0" height="25.23" fill="#AAAAAA" shape-rendering="crispEdges"/>
<rect x="197.5" y="2284.34" width="35.0" height="25.23" fill="#000000" shape-rendering="crispEdges"/>
<rect x="231.9" y="2284.34" width="33.3" height="25.23" fill="#575757" shape-rendering="crispEdges"/>
<text x="285.7" y="2304.7" font-family="Liberation Serif" font-size="23.5" letter-spacing="1.65" stroke="#000" stroke-width="0.15">Alphabaculovirus</text>
<rect x="129.8" y="2308.97" width="33.9" height="25.23" fill="#575757" shape-rendering="crispEdges"/>
<rect x="163.1" y="2308.97" width="35.0" height="25.23" fill="#575757" shape-rendering="crispEdges"/>
<rect x="197.5" y="2308.97" width="35.0" height="25.23" fill="#000000" shape-rendering="crispEdges"/>
<rect x="231.9" y="2308.97" width="33.3" height="25.23" fill="#000000" shape-rendering="crispEdges"/>
<text x="285.7" y="2329.3" font-family="Liberation Serif" font-size="23.5" letter-spacing="1.65" stroke="#000" stroke-width="0.15">Alpharetrovirus</text>
<rect x="129.8" y="2333.60" width="33.9" height="25.23" fill="#FFFFFF" shape-rendering="crispEdges"/>
<rect x="163.1" y="2333.60" width="35.0" height="25.23" fill="#575757" shape-rendering="crispEdges"/>
<rect x="197.5" y="2333.60" width="35.0" height="25.23" fill="#575757" shape-rendering="crispEdges"/>
<rect x="231.9" y="2333.60" width="33.3" height="25.23" fill="#000000" shape-rendering="crispEdges"/>
<text x="285.7" y="2353.9" font-family="Liberation Serif" font-size="23.5" letter-spacing="1.65" stroke="#000" stroke-width="0.15">Aviadenovirus</text>
<rect x="129.8" y="2358.23" width="33.9" height="25.23" fill="#575757" shape-rendering="crispEdges"/>
<rect x="163.1" y="2358.23" width="35.0" height="25.23" fill="#575757" shape-rendering="crispEdges"/>
<rect x="197.5" y="2358.23" width="35.0" height="25.23" fill="#575757" shape-rendering="crispEdges"/>
<rect x="231.9" y="2358.23" width="33.3" height="25.23" fill="#575757" shape-rendering="crispEdges"/>
<text x="285.7" y="2378.5" font-family="Liberation Serif" font-size="23.5" letter-spacing="1.65" stroke="#000" stroke-width="0.15">Betabaculovirus</text>
<rect x="129.8" y="2382.86" width="33.9" height="25.23" fill="#575757" shape-rendering="crispEdges"/>
<rect x="163.1" y="2382.86" width="35.0" height="25.23" fill="#000000" shape-rendering="crispEdges"/>
<rect x="197.5" y="2382.86" width="35.0" height="25.23" fill="#000000" shape-rendering="crispEdges"/>
<rect x="231.9" y="2382.86" width="33.3" height="25.23" fill="#000000" shape-rendering="crispEdges"/>
<text x="285.7" y="2403.1" font-family="Liberation Serif" font-size="23.5" letter-spacing="1.65" stroke="#000" stroke-width="0.15">Cardiovirus</text>
<rect x="129.8" y="2407.49" width="33.9" height="25.23" fill="#575757" shape-rendering="crispEdges"/>
<rect x="163.1" y="2407.49" width="35.0" height="25.23" fill="#000000" shape-rendering="crispEdges"/>
<rect x="197.5" y="2407.49" width="35.0" height="25.23" fill="#000000" shape-rendering="crispEdges"/>
<rect x="231.9" y="2407.49" width="33.3" height="25.23" fill="#000000" shape-rendering="crispEdges"/>
<text x="285.7" y="2427.7" font-family="Liberation Serif" font-size="23.5" letter-spacing="1.65" stroke="#000" stroke-width="0.15">Cyprinivirus</text>
<rect x="129.8" y="2432.12" width="33.9" height="23.38" fill="#FFFFFF" shape-rendering="crispEdges"/>
<rect x="163.1" y="2432.12" width="35.0" height="23.38" fill="#000000" shape-rendering="crispEdges"/>
<rect x="197.5" y="2432.12" width="35.0" height="23.38" fill="#AAAAAA" shape-rendering="crispEdges"/>
<rect x="231.9" y="2432.12" width="33.3" height="23.38" fill="#AAAAAA" shape-rendering="crispEdges"/>
<text x="285.7" y="2452.3" font-family="Liberation Serif" font-size="23.5" letter-spacing="1.65" stroke="#000" stroke-width="0.15">Ichnovirus</text>
<text transform="translate(145,2492.8) scale(1.17,1)" font-family="Liberation Serif" font-weight="bold" font-size="26.5" text-anchor="middle">A</text>
<text transform="translate(179.5,2492.8) scale(1.17,1)" font-family="Liberation Serif" font-weight="bold" font-size="26.5" text-anchor="middle">B</text>
<text transform="translate(214,2492.8) scale(1.17,1)" font-family="Liberation Serif" font-weight="bold" font-size="26.5" text-anchor="middle">C</text>
<text transform="translate(249,2492.8) scale(1.17,1)" font-family="Liberation Serif" font-weight="bold" font-size="26.5" text-anchor="middle">D</text>
<text transform="translate(56.6,2169.3) rotate(-90) scale(0.845,1)" font-family="Liberation Serif" font-size="31" text-anchor="middle">Bacteriophage</text>
<text transform="translate(60.4,2370.7) rotate(-90) scale(0.845,1)" font-family="Liberation Serif" font-size="31" text-anchor="middle">Others</text>
<path d="M112.7,2070.7 Q99,2069.7 98.4,2078.7 L98.4,2171.8 Q98,2176.8 79,2176.8 Q98,2176.8 98.4,2181.8 L98.4,2272.2 Q99,2281.2 112.7,2280.2" fill="none" stroke="#000" stroke-width="1.4"/>
<path d="M112.7,2291.7 Q99,2290.7 98.4,2299.7 L98.4,2366 Q98,2371 79,2371 Q98,2371 98.4,2376 L98.4,2449 Q99,2458 112.7,2457" fill="none" stroke="#000" stroke-width="1.4"/>
</svg></body></html>
